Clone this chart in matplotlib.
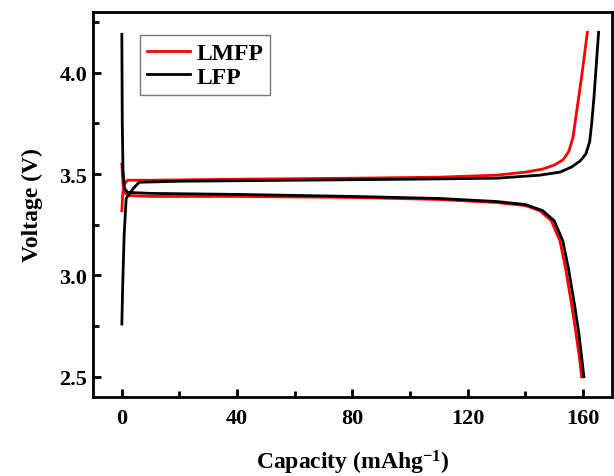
import matplotlib.pyplot as plt
from matplotlib.ticker import MultipleLocator

# LMFP charge / discharge
lmfp_chg_cap = [0, 0.3, 0.8, 2, 10, 40, 80, 110, 130, 140, 146, 150, 153, 155, 156.5, 157.5, 158.5, 159.5, 160.5, 161.5]
lmfp_chg_v = [3.32, 3.40, 3.45, 3.47, 3.47, 3.475, 3.48, 3.485, 3.495, 3.51, 3.525, 3.545, 3.57, 3.61, 3.68, 3.78, 3.88, 3.98, 4.09, 4.20]
lmfp_dis_cap = [0, 0.4, 1, 2, 10, 40, 80, 110, 130, 140, 145, 149, 152, 154, 156, 157.5, 158.7, 159.5]
lmfp_dis_v = [3.55, 3.45, 3.41, 3.395, 3.39, 3.39, 3.385, 3.375, 3.36, 3.345, 3.32, 3.27, 3.17, 3.03, 2.86, 2.72, 2.60, 2.50]

# LFP charge / discharge
lfp_chg_cap = [0, 0.3, 0.8, 1.5, 2.5, 4, 6, 20, 60, 100, 130, 145, 152, 156, 159, 161, 162.3, 163, 163.8, 164.6, 165.4]
lfp_chg_v = [2.76, 2.95, 3.20, 3.38, 3.40, 3.43, 3.46, 3.465, 3.47, 3.475, 3.48, 3.495, 3.51, 3.535, 3.565, 3.60, 3.66, 3.75, 3.88, 4.04, 4.20]
lfp_dis_cap = [0, 0.15, 0.4, 0.9, 2, 10, 40, 80, 110, 130, 140, 146, 150, 153, 155, 157, 158.5, 159.5, 160.3]
lfp_dis_v = [4.19, 3.75, 3.52, 3.43, 3.41, 3.405, 3.40, 3.39, 3.38, 3.365, 3.35, 3.32, 3.27, 3.17, 3.03, 2.86, 2.72, 2.60, 2.50]

plt.rcParams['font.family'] = 'Liberation Serif'
plt.rcParams['font.weight'] = 'bold'
plt.rcParams['mathtext.fontset'] = 'custom'
plt.rcParams['mathtext.rm'] = 'Liberation Serif:bold'
plt.rcParams['mathtext.bf'] = 'Liberation Serif:bold'
plt.rcParams['mathtext.default'] = 'rm'

fig = plt.figure(figsize=(6.14, 4.77), dpi=100)
ax = fig.add_axes([0.1515, 0.1656, 0.845, 0.807])

ax.plot(lmfp_chg_cap, lmfp_chg_v, color='#ff0000', lw=2, label='LMFP')
ax.plot(lmfp_dis_cap, lmfp_dis_v, color='#ff0000', lw=2)
ax.plot(lfp_chg_cap, lfp_chg_v, color='black', lw=2, label='LFP')
ax.plot(lfp_dis_cap, lfp_dis_v, color='black', lw=2)

ax.set_xlim(-10, 170)
ax.set_ylim(2.4, 4.3)
ax.xaxis.set_major_locator(MultipleLocator(40))
ax.xaxis.set_minor_locator(MultipleLocator(20))
ax.yaxis.set_major_locator(MultipleLocator(0.5))
ax.yaxis.set_minor_locator(MultipleLocator(0.25))
ax.set_yticks([2.5, 3.0, 3.5, 4.0])
ax.tick_params(which='major', direction='in', length=6, width=2, labelsize=16)
ax.tick_params(axis='x', which='major', pad=8)
ax.tick_params(axis='y', which='major', pad=4)
ax.tick_params(which='minor', direction='in', length=4, width=2)
for lab in ax.get_xticklabels() + ax.get_yticklabels():
    lab.set_fontweight('bold')
for s in ax.spines.values():
    s.set_linewidth(2)

ax.set_xlabel('Capacity (mAhg$^{-1}$)', fontsize=17, fontweight='bold', labelpad=14)
ax.set_ylabel('Voltage (V)', fontsize=17, fontweight='bold', labelpad=12)

leg = ax.legend(loc='upper left', bbox_to_anchor=(0.09, 0.94), borderaxespad=0,
                frameon=True, fancybox=False, handlelength=1.85, handletextpad=0.25,
                borderpad=0.3, labelspacing=0.1, prop={'weight': 'bold', 'size': 17})
leg.get_frame().set_edgecolor('#555555')
leg.get_frame().set_linewidth(1)

fig.savefig('out.png', dpi=100)
